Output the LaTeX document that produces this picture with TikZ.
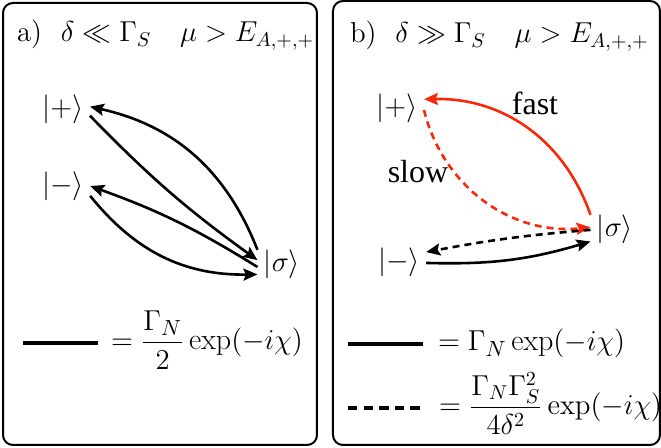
\documentclass[tikz,border=0pt]{standalone}
\usepackage{amsmath}
\usepackage{fontspec}
\newfontfamily\timesfont{Liberation Serif}
\usetikzlibrary{arrows.meta}
\definecolor{fastred}{RGB}{250,40,10}

\begin{document}
\begin{tikzpicture}[x=0.5pt, y=-0.5pt,
    >={Stealth[length=7pt,width=6pt,inset=1.2pt]},
    every node/.style={font=\fontsize{15}{18}\selectfont},
    ket/.style={inner xsep=3pt, inner ysep=2pt},
    caption/.style={anchor=base west, font=\fontsize{14.4}{17}\selectfont},
    legend/.style={anchor=base west, inner ysep=0pt},
    link/.style={->, line width=1.3pt},
    dashlink/.style={link, dash pattern=on 3.5pt off 2.5pt},
    panel/.style={line width=1pt, rounded corners=5pt},
    legline/.style={line width=1.6pt}]
    \useasboundingbox (0,0) rectangle (661,448);

    % ==================== PANEL a) ====================
    \begin{scope}
        % Khung
        \draw[panel] (3,3) rectangle (317,445);
        \node[caption] (titlea) at (10,42) {a)~~$\delta\ll\Gamma_S\quad\mu>E_{A,+,+}$};

        % Trang thai
        \node[ket] (pa) at (63,109) {$|+\rangle$};
        \node[ket] (ma) at (63,186) {$|-\rangle$};
        \node[ket] (sa) at (282,264) {$|\sigma\rangle$};

        % Cac chuyen doi
        \draw[link] (sa.150) to[bend right=28] (pa.5);
        \draw[link] (pa.-14) to[bend right=5] (sa.171);
        \draw[link] (sa.187) to[bend right=6] (ma.0);
        \draw[link] (ma.-20) to[bend right=26] (sa.203);

        % Chu thich
        \node[legend] (eqa) at (104,350) {$=\dfrac{\Gamma_N}{2}\exp(-i\chi)$};
        \draw[legline] (23,343) -- (98,343);
    \end{scope}

    % ==================== PANEL b) ====================
    \begin{scope}[shift={(330,0)}]
        % Khung
        \draw[panel] (3,1) rectangle (330,445);
        \node[caption] (titleb) at (13,43) {b)~~$\delta\gg\Gamma_S\quad\mu>E_{A,+,+}$};

        % Trang thai
        \node[ket] (pb) at (67,108) {$|+\rangle$};
        \node[ket] (mb) at (69,262) {$|-\rangle$};
        \node[ket] (sb) at (285,229) {$|\sigma\rangle$};

        % Cac chuyen doi
        \draw[link, fastred] (sb.150) to[bend right=36] (pb.18);
        \draw[dashlink, fastred] (pb.-4) to[bend right=41] (sb.176);
        \draw[dashlink] (sb.182) to[bend right=3] (mb.20);
        \draw[link] (mb.-2) to[bend right=9] (sb.207);

        \node (fast) at (205,103) {\timesfont\fontsize{16}{19}\selectfont fast};
        \node (slow) at (88,172) {\timesfont\fontsize{16}{19}\selectfont slow};

        % Chu thich
        \node[legend] (eqb) at (101,351) {$=\Gamma_N\exp(-i\chi)$};
        \draw[legline] (18,344) -- (93,344);
        \node[legend, font=\fontsize{14.4}{17}\selectfont] (eqc) at (102,415) {$=\dfrac{\Gamma_N\Gamma_S^2}{4\delta^2}\exp(-i\chi)$};
        \draw[legline, dash pattern=on 4.7pt off 3.1pt] (18,408) -- (93,408);
    \end{scope}
\end{tikzpicture}
\end{document}
